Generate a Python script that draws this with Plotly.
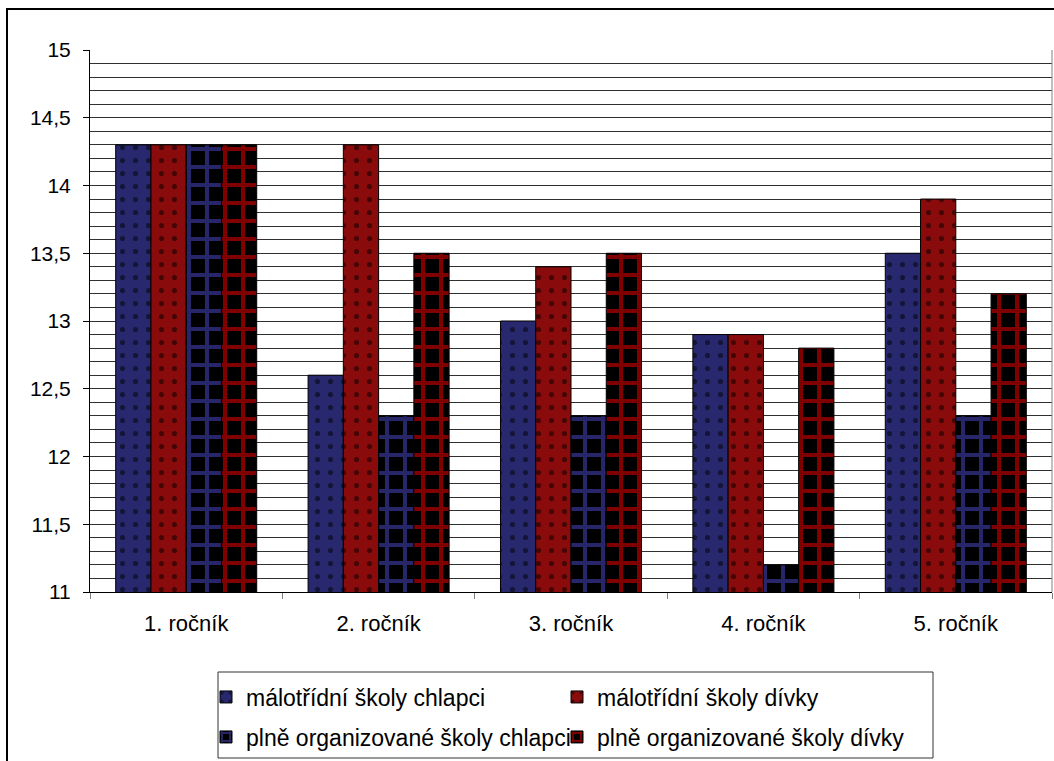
import plotly.graph_objects as go

# Grades (school years) on the category axis
categories = ["1. ročník", "2. ročník", "3. ročník", "4. ročník", "5. ročník"]

# Average values per series
malotridni_chlapci = [14.3, 12.6, 13.0, 12.9, 13.5]
malotridni_divky = [14.3, 14.3, 13.4, 12.9, 13.9]
plne_chlapci = [14.3, 12.3, 12.3, 11.2, 12.3]
plne_divky = [14.3, 13.5, 13.5, 12.8, 13.2]

series_names = [
    "málotřídní školy chlapci",
    "málotřídní školy dívky",
    "plně organizované školy chlapci",
    "plně organizované školy dívky",
]

y_ticks = [11, 11.5, 12, 12.5, 13, 13.5, 14, 14.5, 15]

FONT = "Liberation Sans, Arial, sans-serif"

# Look of each series: textured fills
styles = [
    dict(shape=".", bgcolor="#28286f", fgcolor="#000000", size=13, solidity=0.12),
    dict(shape=".", bgcolor="#8a0b0b", fgcolor="#000000", size=13, solidity=0.12),
    dict(shape="+", bgcolor="#000000", fgcolor="#4c4cd0", size=18, solidity=0.4),
    dict(shape="+", bgcolor="#000000", fgcolor="#ff0000", size=18, solidity=0.4),
]
legend_ids = ["legend", "legend", "legend2", "legend2"]

fig = go.Figure()
for name, vals, st, lg in zip(series_names,
                              [malotridni_chlapci, malotridni_divky, plne_chlapci, plne_divky],
                              styles, legend_ids):
    fig.add_trace(go.Bar(
        x=categories, y=vals, name=name, legend=lg,
        marker=dict(color=st["bgcolor"], pattern=st,
                    line=dict(color="#000000", width=1)),
        showlegend=True,
    ))

legend_common = dict(
    orientation="h", xanchor="left", yanchor="middle",
    bgcolor="rgba(0,0,0,0)", borderwidth=0,
    font=dict(family=FONT, size=23, color="#000000"),
    entrywidth=306, entrywidthmode="pixels",
    traceorder="normal",
)

fig.update_layout(
    width=1054, height=761,
    margin=dict(l=90, r=2, t=50, b=169),
    paper_bgcolor="#ffffff", plot_bgcolor="#ffffff",
    separators=", ",
    barmode="group", bargap=0.267, bargroupgap=0,
    font=dict(family=FONT, size=21, color="#000000"),
    legend=dict(x=(206 - 90) / 962, y=(592 - 697) / 542, **legend_common),
    legend2=dict(x=(206 - 90) / 962, y=(592 - 737) / 542, **legend_common),
    xaxis=dict(
        type="category", tickson="boundaries", ticks="outside", ticklen=6,
        tickcolor="#808080", showline=True, linecolor="#000000", linewidth=1,
        showgrid=False, ticklabelstandoff=12,
        tickfont=dict(family=FONT, size=22, color="#000000"),
    ),
    yaxis=dict(
        range=[11, 15], tickvals=y_ticks,
        ticks="outside", ticklen=6, tickcolor="#000000",
        showline=True, linecolor="#000000", linewidth=1,
        showgrid=True, gridcolor="#303030", gridwidth=1, zeroline=False,
        minor=dict(dtick=0.1, tick0=11, showgrid=True, gridcolor="#303030", gridwidth=1),
        ticklabelstandoff=8,
        tickfont=dict(family=FONT, size=21, color="#000000"),
    ),
    shapes=[
        # right edge of the plot area
        dict(type="line", xref="paper", yref="paper", x0=1, x1=1, y0=0, y1=1,
             line=dict(color="#808080", width=1)),
        # outer chart frame
        dict(type="rect", xref="paper", yref="paper",
             x0=(7 - 90) / 962, x1=1.2, y0=-0.5, y1=(592 - 9) / 542,
             line=dict(color="#000000", width=2)),
        # legend frame
        dict(type="rect", xref="paper", yref="paper",
             x0=(218 - 90) / 962, x1=(933 - 90) / 962,
             y0=(592 - 758) / 542, y1=(592 - 672) / 542,
             line=dict(color="#333333", width=1)),
    ],
)

fig.write_html("out.html")
